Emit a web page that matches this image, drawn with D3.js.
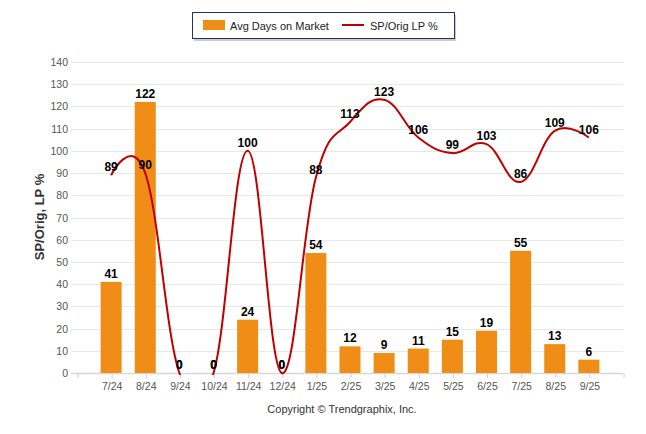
<!DOCTYPE html>
<html>
<head>
<meta charset="utf-8">
<script src="https://cdn.jsdelivr.net/npm/d3@7"></script>
<style>
  body { margin: 0; background: #fff; }
  text { font-family: "Liberation Sans", Arial, sans-serif; }
</style>
</head>
<body>
<svg id="chart"></svg>
<script>
const width = 646;
const height = 434;

const months = ["7/24", "8/24", "9/24", "10/24", "11/24", "12/24", "1/25", "2/25", "3/25", "4/25", "5/25", "6/25", "7/25", "8/25", "9/25"];
const avgDays = [41, 122, 0, 0, 24, 0, 54, 12, 9, 11, 15, 19, 55, 13, 6];
const spOrig = [89, 90, 0, 0, 100, 0, 88, 113, 123, 106, 99, 103, 86, 109, 106];
const yTicks = [0, 10, 20, 30, 40, 50, 60, 70, 80, 90, 100, 110, 120, 130, 140];

const barColor = "#F08D17";
const lineColor = "#C00000";

const plotLeft = 77, plotRight = 623, plotTop = 62, plotBottom = 373;

let svg = d3.select("#chart").attr("width", width).attr("height", height);

// index -1 and 15 are the padding slots on each side
const x = d3.scaleLinear().domain([-1, months.length]).range([plotLeft, plotRight]);
const y = d3.scaleLinear().domain([0, 140]).range([plotBottom, plotTop]);

// grid
svg.append("g")
  .selectAll("line")
  .data(yTicks)
  .enter()
  .append("line")
  .attr("x1", 71)
  .attr("x2", plotRight)
  .attr("y1", (d) => Math.round(y(d)) + 0.5)
  .attr("y2", (d) => Math.round(y(d)) + 0.5)
  .attr("stroke", (d) => (d === 0 ? "#d8d8d8" : "#e8e8e8"))
  .attr("stroke-width", (d) => (d === 0 ? 1.5 : 1));

// y labels
svg.append("g")
  .selectAll("text")
  .data(yTicks)
  .enter()
  .append("text")
  .attr("x", 68)
  .attr("y", (d) => y(d) + 4)
  .attr("text-anchor", "end")
  .attr("font-size", "10.5px")
  .attr("fill", "#555")
  .text((d) => d);

// x axis
const xAxis = d3.axisBottom(x)
  .tickValues(d3.range(-1, months.length + 1))
  .tickSize(5)
  .tickPadding(5)
  .tickFormat((i) => months[i] || "");

let xg = svg.append("g")
  .attr("transform", `translate(0.5, ${plotBottom})`)
  .call(xAxis);
xg.select(".domain").remove();
xg.selectAll(".tick line").attr("stroke", "#d0d0d0");
xg.selectAll(".tick text")
  .attr("fill", "#555")
  .attr("font-size", "10.5px")
  .style("font-family", "'Liberation Sans', Arial, sans-serif");

// bars
const barW = 21;
svg.append("g")
  .selectAll("rect")
  .data(avgDays)
  .enter()
  .append("rect")
  .attr("x", (d, i) => x(i) - barW / 2)
  .attr("y", (d) => y(d))
  .attr("width", barW)
  .attr("height", (d) => plotBottom - y(d))
  .attr("fill", barColor);

// spline the way the old highcharts did it
const pts = spOrig.map((v, i) => ({ px: x(i), py: y(v) }));
const smoothing = 1.5, denom = smoothing + 1;
pts.forEach((p, i) => {
  p.lx = p.px; p.ly = p.py; p.rx = p.px; p.ry = p.py;
  if (i > 0 && i < pts.length - 1) {
    const a = pts[i - 1], b = pts[i + 1];
    let lx = (smoothing * p.px + a.px) / denom;
    let ly = (smoothing * p.py + a.py) / denom;
    let rx = (smoothing * p.px + b.px) / denom;
    let ry = (smoothing * p.py + b.py) / denom;
    const correction = ((ry - ly) * (rx - p.px)) / (rx - lx) + p.py - ry;
    p.lx = lx; p.ly = ly + correction; p.rx = rx; p.ry = ry + correction;
  }
});
const path = d3.path();
pts.forEach((p, i) => {
  if (i === 0) path.moveTo(p.px, p.py);
  else {
    const a = pts[i - 1];
    path.bezierCurveTo(a.rx, a.ry, p.lx, p.ly, p.px, p.py);
  }
});

svg.append("clipPath")
  .attr("id", "plot-clip")
  .append("rect")
  .attr("x", plotLeft)
  .attr("y", 0)
  .attr("width", plotRight - plotLeft)
  .attr("height", plotBottom + 2);

svg.append("path")
  .attr("d", path.toString())
  .attr("fill", "none")
  .attr("stroke", lineColor)
  .attr("stroke-width", 2)
  .attr("stroke-linejoin", "round")
  .attr("clip-path", "url(#plot-clip)");

// data labels
svg.append("g")
  .selectAll("text")
  .data(avgDays)
  .enter()
  .append("text")
  .attr("x", (d, i) => x(i))
  .attr("y", (d) => y(d) - 4)
  .attr("text-anchor", "middle")
  .attr("font-size", "12px")
  .attr("font-weight", "bold")
  .attr("fill", "#000")
  .text((d) => d);

svg.append("g")
  .selectAll("text")
  .data(spOrig)
  .enter()
  .append("text")
  .attr("x", (d, i) => x(i))
  .attr("y", (d) => y(d) - 4)
  .attr("text-anchor", "middle")
  .attr("font-size", "12px")
  .attr("font-weight", "bold")
  .attr("fill", "#000")
  .text((d) => d);

// y title
svg.append("text")
  .attr("transform", "translate(44, 217) rotate(-90)")
  .attr("text-anchor", "middle")
  .attr("font-size", "13px")
  .attr("font-weight", "bold")
  .attr("fill", "#333")
  .text("SP/Orig, LP %");

// legend
let legend = svg.append("g");
legend.append("rect")
  .attr("x", 194).attr("y", 15).attr("width", 262).attr("height", 26)
  .attr("fill", "#999").attr("opacity", 0.5);
legend.append("rect")
  .attr("x", 192.5).attr("y", 12.5).attr("width", 262).attr("height", 26)
  .attr("fill", "#fff").attr("stroke", "#1F3560").attr("stroke-width", 1);
legend.append("rect")
  .attr("x", 203).attr("y", 20).attr("width", 22).attr("height", 10)
  .attr("fill", barColor);
legend.append("text")
  .attr("x", 230).attr("y", 30)
  .attr("font-size", "11px").attr("fill", "#222")
  .text("Avg Days on Market");
legend.append("line")
  .attr("x1", 342).attr("x2", 364).attr("y1", 25).attr("y2", 25)
  .attr("stroke", lineColor).attr("stroke-width", 2);
legend.append("text")
  .attr("x", 370).attr("y", 30)
  .attr("font-size", "11px").attr("fill", "#222")
  .text("SP/Orig LP %");

// footer
svg.append("text")
  .attr("x", 342)
  .attr("y", 413)
  .attr("text-anchor", "middle")
  .attr("font-size", "11px")
  .attr("fill", "#333")
  .text("Copyright © Trendgraphix, Inc.");
</script>
</body>
</html>
